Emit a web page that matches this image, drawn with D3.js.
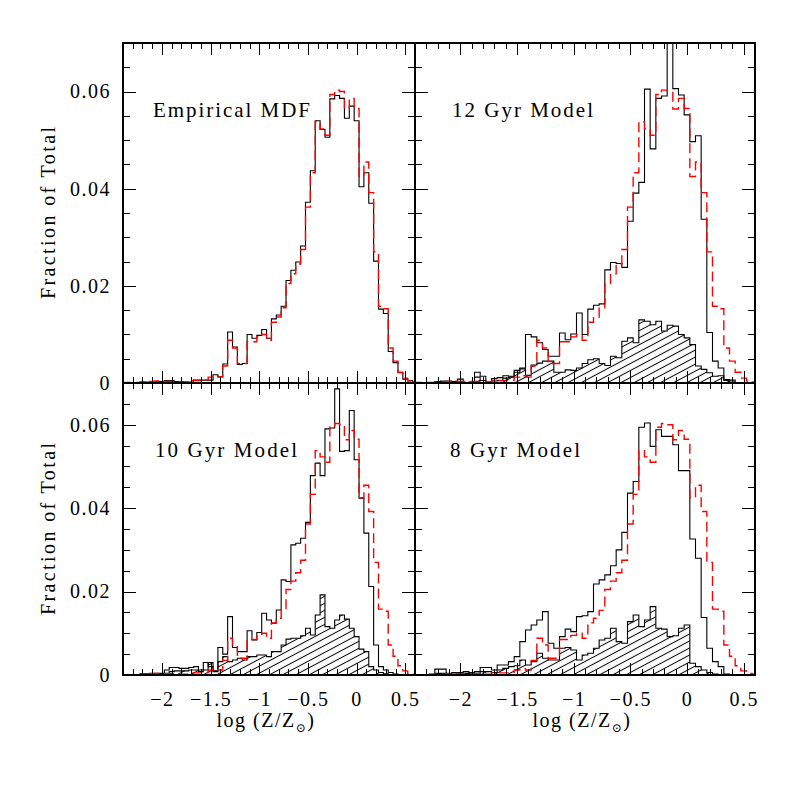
<!DOCTYPE html>
<html>
<head>
<meta charset="utf-8">
<script src="https://cdnjs.cloudflare.com/ajax/libs/d3/7.8.5/d3.min.js"></script>
<style>
  body { margin: 0; background: #fff; }
  text { font-family: "Liberation Serif", "DejaVu Serif", serif; fill: #000; }
</style>
</head>
<body>
<div id="viz"></div>
<script>
// bin centres in log(Z/Zsun), 0.05 dex bins
var binCenters = [-2.40, -2.35, -2.30, -2.25, -2.20, -2.15, -2.10, -2.05, -2.00, -1.95,
  -1.90, -1.85, -1.80, -1.75, -1.70, -1.65, -1.60, -1.55, -1.50, -1.45,
  -1.40, -1.35, -1.30, -1.25, -1.20, -1.15, -1.10, -1.05, -1.00, -0.95,
  -0.90, -0.85, -0.80, -0.75, -0.70, -0.65, -0.60, -0.55, -0.50, -0.45,
  -0.40, -0.35, -0.30, -0.25, -0.20, -0.15, -0.10, -0.05, 0.00, 0.05,
  0.10, 0.15, 0.20, 0.25, 0.30, 0.35, 0.40, 0.45, 0.50, 0.55, 0.60];
var binWidth = 0.05;

// black solid, top left panel
var empiricalMDF = [0.0001,
  0.0001, 0.0001, 0.0001, 0.0002, 0.0002, 0.0003, 0.0003, 0.0003, 0.0005, 0.0005,
  0.0003, 0.0003, 0.0002, 0.0002, 0.0006, 0.0006, 0.0006, 0.0006, 0.0017, 0.0013,
  0.0039, 0.0105, 0.0074, 0.0038, 0.0040, 0.0100, 0.0092, 0.0098, 0.0110, 0.0092,
  0.0132, 0.0140, 0.0158, 0.0211, 0.0232, 0.0249, 0.0282, 0.0372, 0.0437, 0.0540,
  0.0522, 0.0506, 0.0585, 0.0592, 0.0586, 0.0545, 0.0570, 0.0540, 0.0404, 0.0433,
  0.0370, 0.0251, 0.0152, 0.0143, 0.0065, 0.0042, 0.0021, 0.0008, 0.0005,
  0.0002];

// red dashed, repeated in every panel
var comparisonMDF = [0.0001,
  0.0001, 0.0001, 0.0001, 0.0002, 0.0002, 0.0003, 0.0004, 0.0003, 0.0003, 0.0003,
  0.0003, 0.0002, 0.0002, 0.0005, 0.0005, 0.0005, 0.0006, 0.0012, 0.0015, 0.0012,
  0.0035, 0.0088, 0.0072, 0.0040, 0.0040, 0.0085, 0.0085, 0.0095, 0.0100, 0.0088,
  0.0125, 0.0136, 0.0155, 0.0205, 0.0225, 0.0245, 0.0275, 0.0362, 0.0433, 0.0538,
  0.0523, 0.0510, 0.0594, 0.0603, 0.0600, 0.0564, 0.0586, 0.0565, 0.0425, 0.0455,
  0.0392, 0.0270, 0.0158, 0.0153, 0.0072, 0.0045, 0.0022, 0.0010, 0.0004,
  0.0002];

var model12 = [0,
  0, 0, 0, 0.0003, 0.0004, 0.0004, 0.0003, 0.0008, 0.0001, 0.0002,
  0.0022, 0.0014, 0.0002, 0.0009, 0.0011, 0.0015, 0.0014, 0.0022, 0.0031, 0.0100,
  0.0095, 0.0083, 0.0069, 0.0055, 0.0055, 0.0103, 0.0089, 0.0101, 0.0144, 0.0100,
  0.0152, 0.0160, 0.0163, 0.0233, 0.0248, 0.0246, 0.0238, 0.0333, 0.0391, 0.0413,
  0.0605, 0.0482, 0.0586, 0.0591, 0.0780, 0.0606, 0.0593, 0.0552, 0.0497, 0.0509,
  0.0337, 0.0104, 0.0045, 0.0031, 0.0007, 0.0006, 0, 0, 0,
  0];
var model12Hatched = [0,
  0, 0, 0, 0.0002, 0.0002, 0.0002, 0.0001, 0.0003, 0.0001, 0.0001,
  0.0012, 0.0005, 0.0001, 0.0004, 0.0005, 0.0010, 0.0012, 0.0026, 0.0029, 0.0016,
  0.0037, 0.0041, 0.0045, 0.0045, 0.0022, 0.0022, 0.0027, 0.0026, 0.0031, 0.0040,
  0.0048, 0.0050, 0.0040, 0.0036, 0.0055, 0.0052, 0.0086, 0.0093, 0.0083, 0.0130,
  0.0127, 0.0120, 0.0127, 0.0107, 0.0119, 0.0117, 0.0100, 0.0093, 0.0079, 0.0035,
  0.0028, 0.0021, 0.0014, 0.0015, 0.0005, 0.0002, 0, 0, 0,
  0];

var model10 = [0,
  0, 0, 0.0001, 0.0003, 0.0003, 0.0004, 0.0004, 0.0004, 0.0012, 0.0018,
  0.0018, 0.0016, 0.0016, 0.0018, 0.0020, 0.0012, 0.0030, 0.0020, 0.0010, 0.0066,
  0.0050, 0.0140, 0.0066, 0.0056, 0.0056, 0.0106, 0.0084, 0.0102, 0.0148, 0.0132,
  0.0124, 0.0156, 0.0228, 0.0224, 0.0312, 0.0316, 0.0328, 0.0366, 0.0478, 0.0508,
  0.0478, 0.0590, 0.0592, 0.0686, 0.0536, 0.0538, 0.0634, 0.0516, 0.0424, 0.0340,
  0.0212, 0.0072, 0.0020, 0.0012, 0.0006, 0.0002, 0, 0, 0,
  0];
var model10Hatched = [0,
  0, 0, 0, 0.0001, 0.0001, 0.0002, 0.0002, 0.0002, 0.0004, 0.0008,
  0.0010, 0.0010, 0.0010, 0.0012, 0.0012, 0.0008, 0.0012, 0.0030, 0.0008, 0.0032,
  0.0044, 0.0032, 0.0036, 0.0040, 0.0036, 0.0044, 0.0044, 0.0048, 0.0048, 0.0044,
  0.0056, 0.0056, 0.0072, 0.0086, 0.0088, 0.0088, 0.0094, 0.0112, 0.0096, 0.0144,
  0.0192, 0.0116, 0.0112, 0.0132, 0.0144, 0.0134, 0.0112, 0.0092, 0.0062, 0.0056,
  0.0020, 0.0012, 0.0006, 0.0003, 0, 0, 0, 0, 0,
  0];

var model8 = [0,
  0, 0, 0.0002, 0.0014, 0.0014, 0.0004, 0.0006, 0.0006, 0.0008, 0.0006,
  0.0008, 0.0018, 0.0018, 0.0012, 0.0024, 0.0024, 0.0032, 0.0044, 0.0080, 0.0108,
  0.0120, 0.0132, 0.0152, 0.0076, 0.0064, 0.0092, 0.0110, 0.0104, 0.0140, 0.0142,
  0.0152, 0.0218, 0.0228, 0.0240, 0.0262, 0.0300, 0.0342, 0.0436, 0.0464, 0.0594,
  0.0604, 0.0548, 0.0588, 0.0572, 0.0572, 0.0552, 0.0490, 0.0490, 0.0326, 0.0280,
  0.0138, 0.0064, 0.0032, 0.0020, 0.0002, 0, 0, 0, 0,
  0];
var model8Hatched = [0,
  0, 0, 0, 0.0004, 0.0004, 0.0002, 0.0002, 0.0002, 0.0004, 0.0004,
  0.0004, 0.0008, 0.0008, 0.0006, 0.0012, 0.0016, 0.0020, 0.0022, 0.0036, 0.0024,
  0.0032, 0.0052, 0.0040, 0.0036, 0.0036, 0.0064, 0.0066, 0.0060, 0.0036, 0.0048,
  0.0052, 0.0064, 0.0084, 0.0088, 0.0112, 0.0080, 0.0076, 0.0128, 0.0144, 0.0116,
  0.0132, 0.0164, 0.0112, 0.0110, 0.0092, 0.0094, 0.0112, 0.0120, 0.0028, 0.0020,
  0.0012, 0.0006, 0.0002, 0, 0, 0, 0, 0, 0,
  0];

var xDomain = [-2.4, 0.6];
var yDomain = [0, 0.07];
var xMajorTicks = [-2, -1.5, -1, -0.5, 0, 0.5];
var yMajorTicks = [0, 0.02, 0.04, 0.06];

var panelLabels = ["Empirical MDF", "12 Gyr Model", "10 Gyr Model", "8 Gyr Model"];

// page layout (pixels)
var colEdges = [123, 415, 755];
var rowEdges = [43, 383, 675];

var panels = [
  {label: panelLabels[0], solid: empiricalMDF, hatched: null, col: 0, row: 0, lx: 30, lw: 157},
  {label: panelLabels[1], solid: model12, hatched: model12Hatched, col: 1, row: 0, lx: 37, lw: 141},
  {label: panelLabels[2], solid: model10, hatched: model10Hatched, col: 0, row: 1, lx: 32, lw: 142},
  {label: panelLabels[3], solid: model8, hatched: model8Hatched, col: 1, row: 1, lx: 35, lw: 130}
];

var svg = d3.select("#viz")
  .append("svg")
  .attr("width", 797)
  .attr("height", 797);

var defs = svg.append("defs");
defs.append("pattern")
  .attr("id", "hatch")
  .attr("patternUnits", "userSpaceOnUse")
  .attr("width", 20)
  .attr("height", 6.2)
  .attr("patternTransform", "rotate(-28)")
  .append("line")
  .attr("x1", 0).attr("y1", 3.1)
  .attr("x2", 20).attr("y2", 3.1)
  .attr("stroke", "#000")
  .attr("stroke-width", 1);

var xMinorTicks = d3.range(-24, 7).map(function(i) { return i / 10; })
  .filter(function(v) { return Math.abs(v * 2 - Math.round(v * 2)) > 1e-6; });
var yMinorTicks = d3.range(0, 15).map(function(i) { return i * 0.005; })
  .filter(function(v) { return Math.abs(v / 0.02 - Math.round(v / 0.02)) > 1e-6; });

function fmtX(d) {
  if (d === 0) return "0";
  return (d < 0 ? "\u2212" : "") + Math.abs(d);
}
function fmtY(d) {
  return d === 0 ? "0" : d.toFixed(2);
}

// step outline points: left edge of each bin, plus right edge of last
function stepPoints(vals) {
  var pts = binCenters.map(function(c, i) { return [c - binWidth / 2, vals[i]]; });
  pts.push([binCenters[binCenters.length - 1] + binWidth / 2, vals[vals.length - 1]]);
  return pts;
}

panels.forEach(function(p, pi) {
  var x0 = colEdges[p.col], x1 = colEdges[p.col + 1];
  var y0 = rowEdges[p.row], y1 = rowEdges[p.row + 1];

  var x = d3.scaleLinear().domain(xDomain).range([x0, x1]);
  var y = d3.scaleLinear().domain(yDomain).range([y1, y0]);

  defs.append("clipPath")
    .attr("id", "clip" + pi)
    .append("rect")
    .attr("x", x0).attr("y", y0)
    .attr("width", x1 - x0).attr("height", y1 - y0);

  var g = svg.append("g");
  var data = g.append("g").attr("clip-path", "url(#clip" + pi + ")");

  var line = d3.line()
    .curve(d3.curveStepAfter)
    .x(function(d) { return x(d[0]); })
    .y(function(d) { return y(d[1]); });

  if (p.hatched) {
    var area = d3.area()
      .curve(d3.curveStepAfter)
      .x(function(d) { return x(d[0]); })
      .y0(y(0))
      .y1(function(d) { return y(d[1]); });
    data.append("path")
      .attr("d", area(stepPoints(p.hatched)))
      .attr("fill", "url(#hatch)")
      .attr("stroke", "none");
    data.append("path")
      .attr("d", line(stepPoints(p.hatched)))
      .attr("fill", "none")
      .attr("stroke", "#000")
      .attr("stroke-width", 1.1);
  }

  data.append("path")
    .attr("d", line(stepPoints(p.solid)))
    .attr("fill", "none")
    .attr("stroke", "#000")
    .attr("stroke-width", 1.1);

  data.append("path")
    .attr("d", line(stepPoints(comparisonMDF)))
    .attr("fill", "none")
    .attr("stroke", "#ff0000")
    .attr("stroke-width", 1.4)
    .attr("stroke-dasharray", "10,5");

  // ticks on all four sides, pointing inwards
  function addAxis(axis, tx, ty) {
    var a = g.append("g")
      .attr("transform", "translate(" + tx + "," + ty + ")")
      .call(axis);
    a.select(".domain").remove();
    a.selectAll("line").attr("stroke", "#000").attr("shape-rendering", "crispEdges");
    a.attr("font-family", null).attr("font-size", 20);
    a.selectAll("text").attr("letter-spacing", "1.5px");
    return a;
  }

  var showX = p.row === 1, showY = p.col === 0;

  addAxis(d3.axisBottom(x).tickValues(xMajorTicks).tickSize(-12).tickPadding(17)
    .tickFormat(showX ? fmtX : ""), 0, y1);
  addAxis(d3.axisBottom(x).tickValues(xMinorTicks).tickSize(-6).tickFormat(""), 0, y1);
  addAxis(d3.axisTop(x).tickValues(xMajorTicks).tickSize(-12).tickFormat(""), 0, y0);
  addAxis(d3.axisTop(x).tickValues(xMinorTicks).tickSize(-6).tickFormat(""), 0, y0);
  addAxis(d3.axisLeft(y).tickValues(yMajorTicks).tickSize(-13).tickPadding(12)
    .tickFormat(showY ? fmtY : ""), x0, 0);
  addAxis(d3.axisLeft(y).tickValues(yMinorTicks).tickSize(-7).tickFormat(""), x0, 0);
  addAxis(d3.axisRight(y).tickValues(yMajorTicks).tickSize(-13).tickFormat(""), x1, 0);
  addAxis(d3.axisRight(y).tickValues(yMinorTicks).tickSize(-7).tickFormat(""), x1, 0);

  // frame
  g.append("rect")
    .attr("x", x0).attr("y", y0)
    .attr("width", x1 - x0).attr("height", y1 - y0)
    .attr("fill", "none")
    .attr("stroke", "#000")
    .attr("stroke-width", 1.2)
    .attr("shape-rendering", "crispEdges");

  // panel label
  g.append("text")
    .attr("x", x0 + p.lx)
    .attr("y", y0 + 74)
    .attr("font-size", 21)
    .attr("textLength", p.lw)
    .attr("lengthAdjust", "spacing")
    .text(p.label);

  if (showY) {
    g.append("text")
      .attr("transform", "translate(55," + ((y0 + y1) / 2) + ") rotate(-90)")
      .attr("text-anchor", "middle")
      .attr("font-size", 20)
      .attr("textLength", 172)
      .attr("lengthAdjust", "spacing")
      .text("Fraction of Total");
  }

  if (showX) {
    var t = g.append("text")
      .attr("x", (x0 + x1) / 2 - 3)
      .attr("y", 727)
      .attr("text-anchor", "middle")
      .attr("font-size", 20)
      .attr("letter-spacing", "1.5px");
    t.append("tspan").text("log (Z/Z");
    t.append("tspan").attr("font-size", 12).attr("dy", 5).text("\u2299");
    t.append("tspan").attr("dy", -5).text(")");
  }
});
</script>
</body>
</html>
